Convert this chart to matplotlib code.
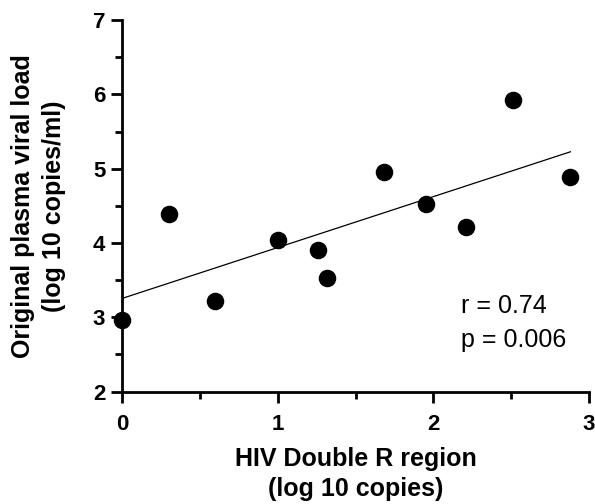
import numpy as np
import matplotlib
matplotlib.use('Agg')
import matplotlib.pyplot as plt
from matplotlib.ticker import MultipleLocator

plt.rcParams['font.family'] = ['Liberation Sans', 'DejaVu Sans']
plt.rcParams['font.weight'] = 'bold'

# HIV Double R region (log10 copies) vs original plasma viral load (log10 copies/ml)
double_r = [0.00, 0.30, 0.60, 1.00, 1.26, 1.32, 1.68, 1.95, 2.21, 2.51, 2.88]
viral_load = [2.97, 4.39, 3.22, 4.04, 3.90, 3.53, 4.95, 4.52, 4.22, 5.93, 4.89]
stats_lines = ['r = 0.74', 'p = 0.006']

x = np.array(double_r)
y = np.array(viral_load)
slope, intercept = np.polyfit(x, y, 1)
xfit = np.array([x.min(), x.max()])

fig = plt.figure(figsize=(5.95, 5.04), dpi=100)
ax = fig.add_axes([0.205, 0.223, 0.785, 0.737])

ax.plot(xfit, slope * xfit + intercept, color='black', lw=0.9)
ax.scatter(x, y, s=135, color='black', zorder=3, clip_on=False)

ax.set_xlim(0, 3)
ax.set_ylim(2, 7)
ax.xaxis.set_major_locator(MultipleLocator(1))
ax.xaxis.set_minor_locator(MultipleLocator(0.5))
ax.yaxis.set_major_locator(MultipleLocator(1))
ax.yaxis.set_minor_locator(MultipleLocator(0.5))

for side in ['top', 'right']:
    ax.spines[side].set_visible(False)
for side in ['left', 'bottom']:
    ax.spines[side].set_linewidth(2)

ax.tick_params(which='major', length=8, width=2, labelsize=16)
ax.tick_params(axis='x', which='major', pad=8)
ax.tick_params(axis='y', which='major', pad=4)
ax.tick_params(which='minor', length=5, width=2)

ax.set_xlabel('HIV Double R region\n(log 10 copies)', fontsize=18,
              fontweight='bold', labelpad=9, linespacing=1.3)
ax.set_ylabel('Original plasma viral load\n(log 10 copies/ml)', fontsize=18,
              fontweight='bold', labelpad=19, linespacing=1.4)

ax.text(2.18, 3.06, stats_lines[0], fontsize=18, fontweight='normal', va='baseline')
ax.text(2.18, 2.60, stats_lines[1], fontsize=18, fontweight='normal', va='baseline')

fig.savefig('out.png', dpi=100)
